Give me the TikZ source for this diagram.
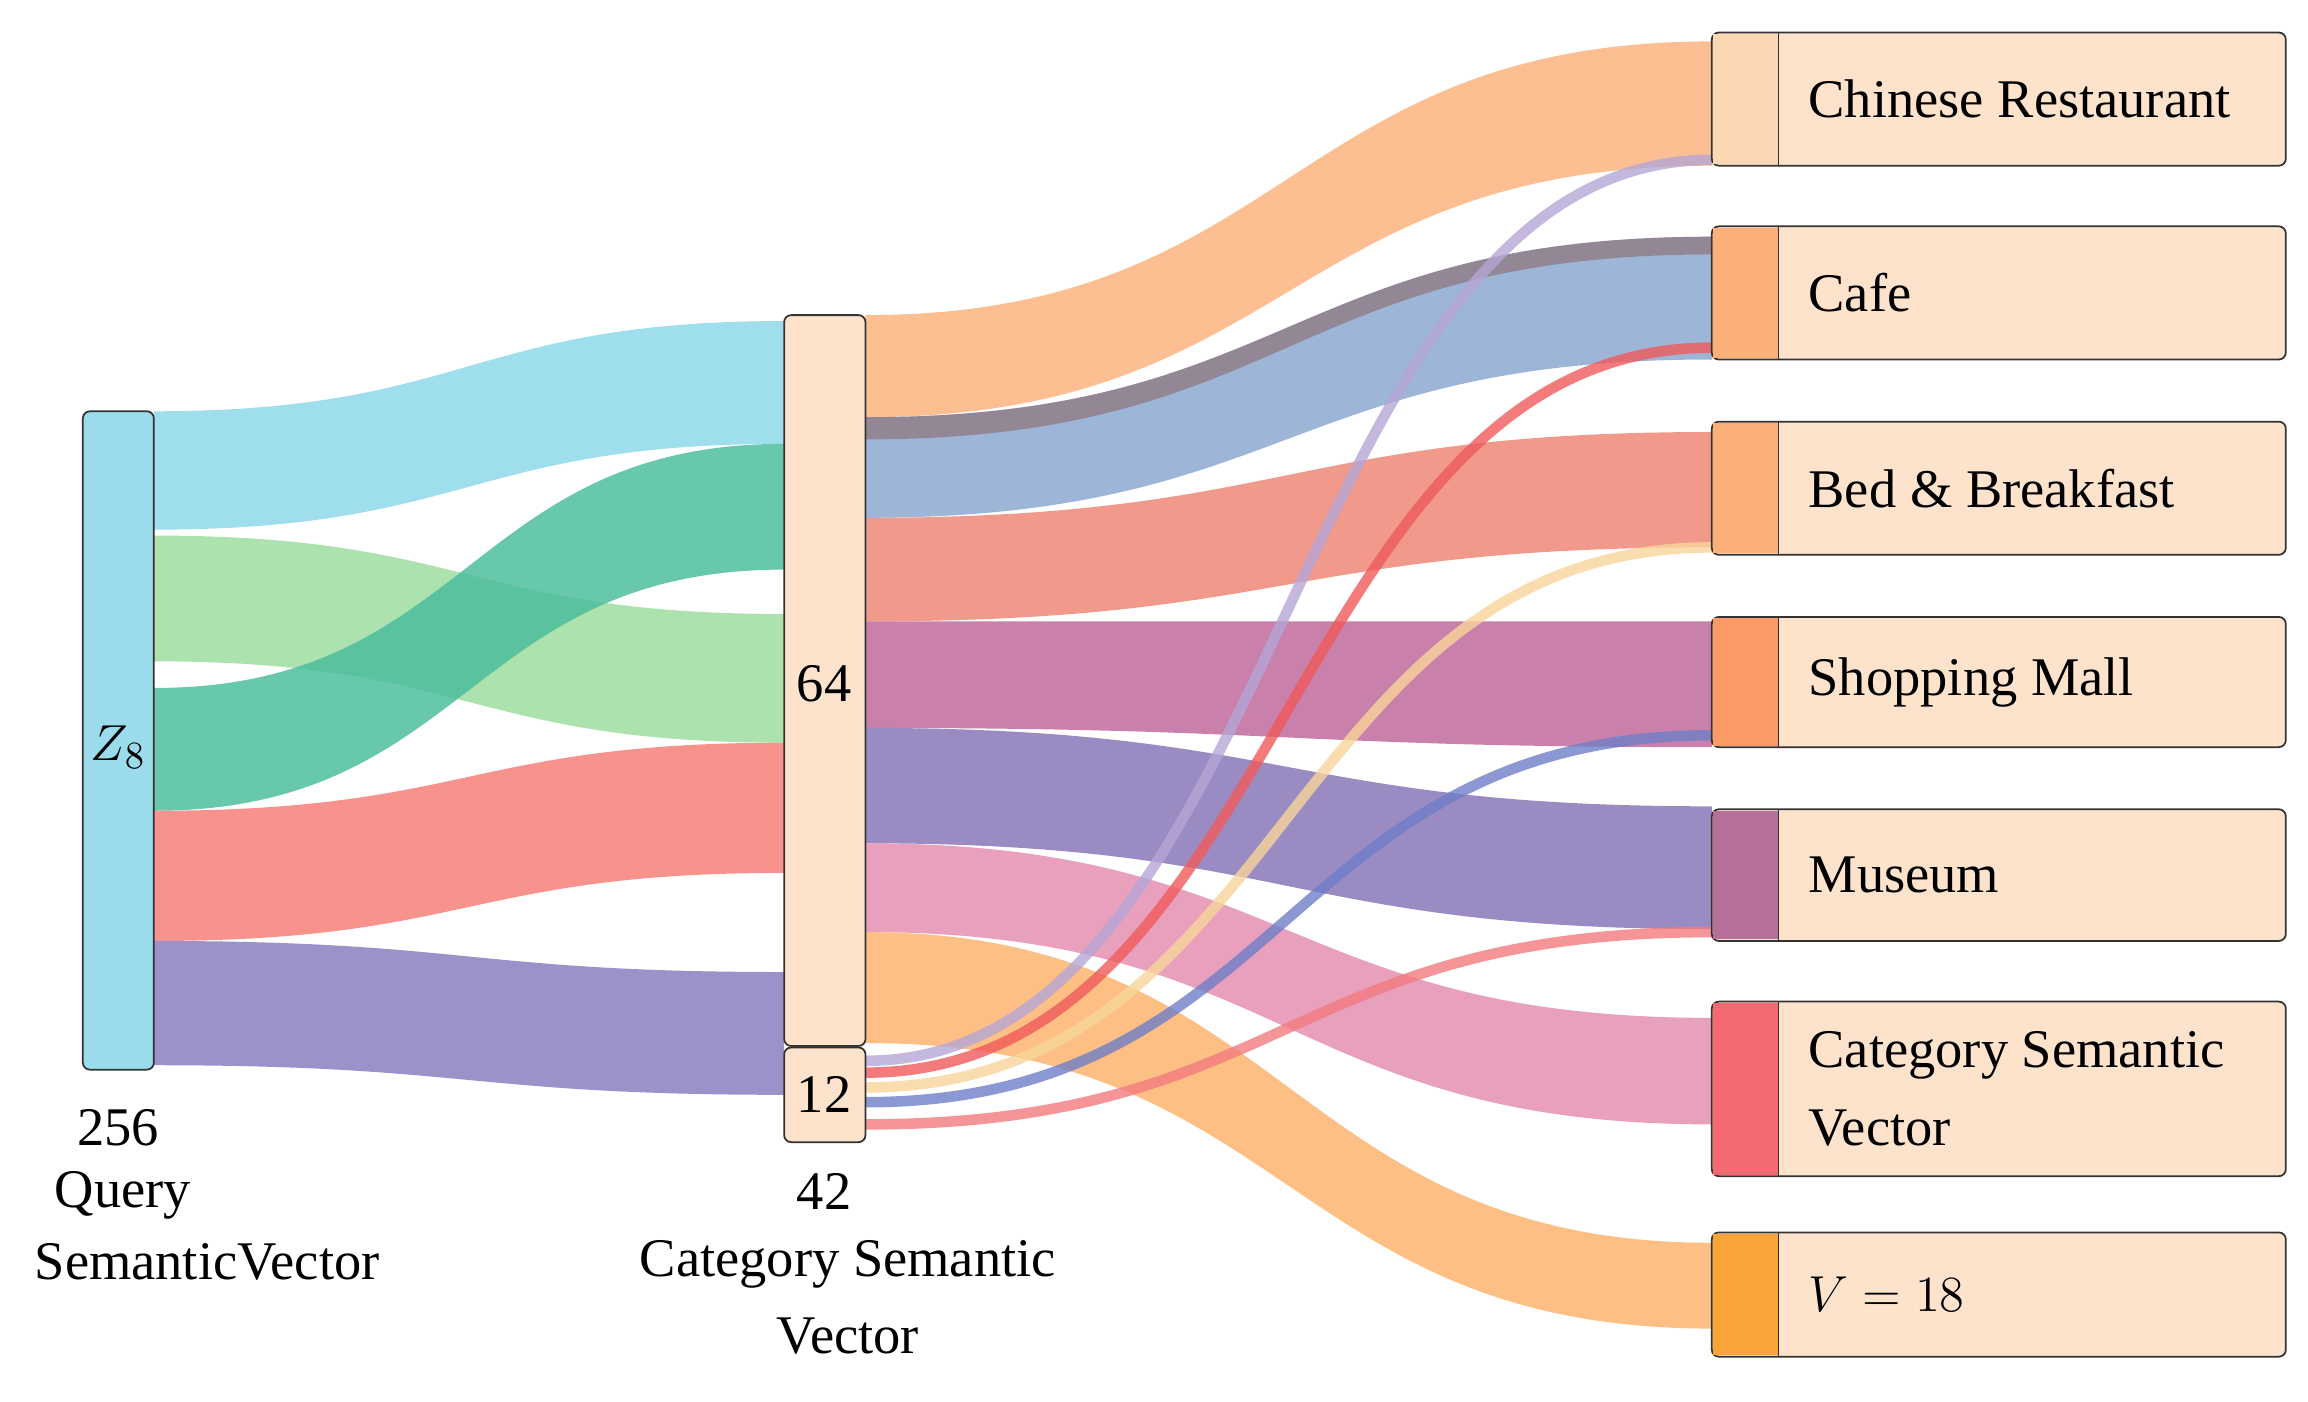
\documentclass[tikz,border=0pt]{standalone}
\usepackage{fontspec}
\setmainfont{Liberation Serif}
\definecolor{peach}{HTML}{FDE3CC}
\definecolor{barcyan}{HTML}{9ADCEB}
\tikzset{
  lbl/.style={font=\fontsize{15.5}{18}\selectfont,text=black,inner sep=0pt},
  box/.style={draw=black!80,line width=0.5pt,rounded corners=2pt,fill=peach},
}
% ribbon from (x1,top1..bot1) to (x2,top2..bot2)
\newcommand\flow[7]{\definecolor{fl}{HTML}{#7}\fill[fl,opacity=.85] (#1,#2) .. controls ({(#1+#4)/2},#2) and ({(#1+#4)/2},#5) .. (#4,#5) -- (#4,#6) .. controls ({(#1+#4)/2},#6) and ({(#1+#4)/2},#3) .. (#1,#3) -- cycle;}
\newcommand\thin[5]{\definecolor{fl}{HTML}{#5}\draw[fl,opacity=.8,line width=#4] (#1) .. controls (870,#2) and (870,#3) .. (1157,#3);}
\begin{document}
\begin{tikzpicture}[x=0.148mm,y=-0.148mm]
  \useasboundingbox (0,0) rectangle (1560,947);
  % left to middle
  \flow{104}{278}{358}{530}{217}{300}{8ED8EA}
  \flow{104}{362}{447}{530}{415}{502}{9EDDA0}
  \flow{104}{465}{548}{530}{300}{385}{4DBE9E}
  \flow{104}{548}{636}{530}{502}{590}{F77F78}
  \flow{104}{636}{720}{530}{657}{740}{8B7FC0}
  % middle to right
  \flow{585}{213}{282}{1157}{28}{112}{FDB47E}
  \flow{585}{282}{350}{1157}{160}{243}{8CA8CF}
  \definecolor{dk}{HTML}{8C6A6A}
  \fill[dk,opacity=.6] (585,282) .. controls (871,282) and (871,160) .. (1157,160) -- (1157,172) .. controls (871,172) and (871,297) .. (585,297) -- cycle;
  \flow{585}{350}{420}{1157}{292}{370}{EE8878}
  \flow{585}{420}{492}{1157}{420}{505}{C06A9B}
  \flow{585}{492}{570}{1157}{545}{628}{8878B8}
  \flow{585}{570}{630}{1157}{688}{760}{E48FB0}
  \flow{585}{630}{705}{1157}{840}{898}{FDB46E}
  % thin links from the small box
  \coordinate (s1) at (585,717);
  \coordinate (s2) at (585,725);
  \coordinate (s3) at (585,735);
  \coordinate (s4) at (585,745);
  \coordinate (s5) at (585,760);
  \thin{s1}{717}{108}{3pt}{B5A6D6}
  \thin{s2}{725}{235}{3pt}{F05A5A}
  \thin{s3}{735}{370}{3pt}{F8D59A}
  \thin{s4}{745}{497}{3pt}{6F7EC8}
  \thin{s5}{760}{630}{3pt}{F47A7E}
  % bars
  \draw[box,fill=barcyan] (56,278) rectangle (104,723);
  \node[lbl] (zq) at (80,505) {$Z_8$};
  \draw[box] (530,213) rectangle (585,707);
  \node[lbl] (c64) at (557,462) {64};
  \draw[box] (530,708) rectangle (585,772);
  \node[lbl] (c12) at (557,740) {12};
  \node[lbl] (n256) at (80,762) {256};
  \node[lbl] (nq) at (83,808) {Query};
  \node[lbl] (nsv) at (140,853) {SemanticVector};
  \node[lbl] (n42) at (557,805) {42};
  \node[lbl,align=center] (ncsv) at (573,877) {Category Semantic\\[4pt]Vector};
  % right boxes
  \foreach \t/\b/\c/\name/\txt in {
      22/112/FCD7B4/cr/Chinese Restaurant,
      153/243/FBB07A/cf/Cafe,
      285/375/FBAE78/bb/Bed \& Breakfast,
      417/505/FB9A66/sm/Shopping Mall,
      547/636/B57099/mu/Museum,
      833/917/F9A436/vv/$V=18$}{
    \draw[box] (1157,\t) rectangle (1545,\b);
    \definecolor{sw}{HTML}{\c}
    \fill[sw] (1158,\t+1) rectangle (1202,\b-1);
    \draw[black!80] (1202,\t) -- (1202,\b);
    \node[lbl,anchor=west] (\name) at (1222,{(\t+\b)/2}) {\txt};
  }
  \draw[box] (1157,677) rectangle (1545,795);
  \definecolor{sw}{HTML}{F56A72}
  \fill[sw] (1158,678) rectangle (1202,794);
  \draw[black!80] (1202,677) -- (1202,795);
  \node[lbl,anchor=west,align=left] (csv) at (1222,736) {Category Semantic\\[4pt]Vector};
\end{tikzpicture}
\end{document}
